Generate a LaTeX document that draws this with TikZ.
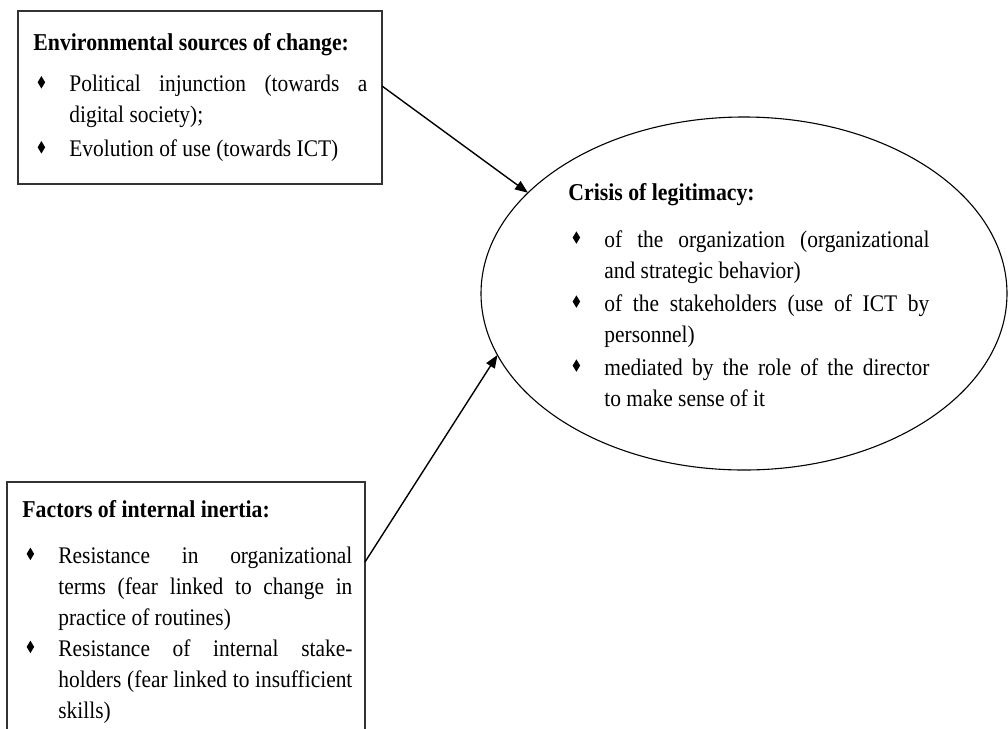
\documentclass[tikz,border=0pt]{standalone}
\usepackage{fontspec}
\setmainfont{Liberation Serif}[FakeStretch=0.9]
\usetikzlibrary{arrows.meta,shapes.geometric}
\hyphenpenalty=10000
\newcommand{\dia}{\leavevmode\llap{\makebox[28pt]{\raisebox{1.6pt}{\scalebox{0.6}[1]{\rotatebox{45}{\rule{4.4pt}{4.4pt}}}}}}}
\begin{document}
\begin{tikzpicture}[x=0.5pt,y=-0.5pt,
  frame/.style={draw=black!80,line width=0.8pt,inner sep=0pt,outer sep=0pt},
  oval/.style={ellipse,draw=black,line width=0.55pt,inner sep=0pt,outer sep=0pt},
  ttl/.style={anchor=base west,inner sep=0pt,font=\fontsize{12.1}{15.5}\selectfont\bfseries},
  lst/.style={anchor=base west,inner sep=0pt,align=justify,font=\fontsize{11.9}{15.5}\selectfont},
  link/.style={line width=0.7pt,-{Triangle[length=6.5pt,width=5pt]}}]
\useasboundingbox (0,0) rectangle (1008,729);
\clip (0,0) rectangle (1008,729);

% boxes
\node[frame,minimum width=182pt,minimum height=86.5pt] (env) at (200,97.5) {};
\node[frame,minimum width=179pt,minimum height=139pt] (inert) at (186,621) {};
\node[oval,minimum width=263pt,minimum height=176.5pt] (crisis) at (744,293.5) {};

% texts: environmental box
\node[ttl] (envT) at (33,50) {Environmental sources of change:};
\node[lst,text width=149pt] (envL) at (69,91.7) {%
\dia Political injunction (towards a\linebreak digital society);\par\vspace{1.5pt}%
\dia Evolution of use (towards ICT)};

% texts: inertia box
\node[ttl] (inertT) at (22,517) {Factors of internal inertia:};
\node[lst,text width=147pt] (inertL) at (58,563.3) {%
\dia Resistance in organizational\linebreak terms (fear linked to change in\linebreak practice of routines)\par%
\dia Resistance of internal stake-\linebreak holders (fear linked to insufficient\linebreak skills)};

% texts: crisis ellipse
\node[ttl] (crisisT) at (568,200) {Crisis of legitimacy:};
\node[lst,text width=162.5pt] (crisisL) at (604,247) {%
\dia of the organization (organizational\linebreak and strategic behavior)\par\vspace{1pt}%
\dia of the stakeholders (use of ICT by\linebreak personnel)\par\vspace{1pt}%
\dia mediated by the role of the director\linebreak to make sense of it};

% connectors
\draw[link] ([yshift=5.75pt]env.east) -- (crisis.155.8);
\draw[link] ([yshift=29.5pt]inert.east) -- (crisis.194.1);
\end{tikzpicture}
\end{document}
